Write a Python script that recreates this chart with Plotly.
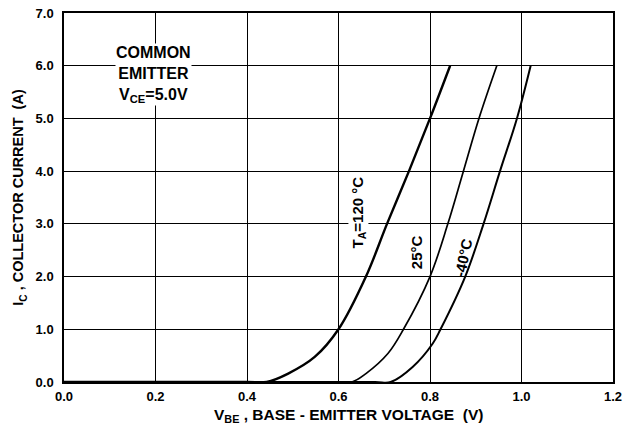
import plotly.graph_objects as go

# Data
v_120 = [0.0, 0.20, 0.40, 0.443, 0.490, 0.548, 0.600, 0.660, 0.706, 0.754, 0.800, 0.844]
i_120 = [0.0, 0.0, 0.0, 0.0, 0.16, 0.475, 1.0, 2.0, 3.0, 4.0, 5.0, 6.0]

v_25 = [0.0, 0.30, 0.59, 0.629, 0.660, 0.708, 0.742, 0.800, 0.839, 0.873, 0.907, 0.946]
i_25 = [0.0, 0.0, 0.0, 0.0, 0.16, 0.54, 1.0, 2.0, 3.0, 4.0, 5.0, 6.0]

v_m40 = [0.0, 0.35, 0.68, 0.714, 0.762, 0.806, 0.823, 0.877, 0.917, 0.953, 0.990, 1.020]
i_m40 = [0.0, 0.0, 0.0, 0.0, 0.285, 0.73, 1.0, 2.0, 3.0, 4.0, 5.0, 6.0]

x_ticks = [0.0, 0.2, 0.4, 0.6, 0.8, 1.0, 1.2]
y_ticks = [0.0, 1.0, 2.0, 3.0, 4.0, 5.0, 6.0, 7.0]

FONT = "Liberation Sans"

fig = go.Figure()
for v, i, w in [(v_120, i_120, 2.4), (v_25, i_25, 1.7), (v_m40, i_m40, 2.0)]:
    fig.add_trace(go.Scatter(x=v, y=i, mode="lines",
                             line=dict(color="black", width=w, shape="spline", smoothing=1.0),
                             showlegend=False, hoverinfo="skip", cliponaxis=True))

ann_font = dict(family=FONT, size=16, color="black")
fig.add_annotation(x=0.195, y=5.84, xref="x", yref="y", showarrow=False,
                   text="<b>COMMON<br>EMITTER<br>V<sub>CE</sub>=5.0V</b>",
                   font=ann_font, align="center", bgcolor="white", borderpad=0)
fig.add_annotation(x=0.643, y=3.22, xref="x", yref="y", showarrow=False,
                   text="<b>T<sub>A</sub>=120 °C</b>", textangle=-90,
                   font=dict(family=FONT, size=15, color="black"), bgcolor="white", borderpad=0)
fig.add_annotation(x=0.769, y=2.46, xref="x", yref="y", showarrow=False,
                   text="<b>25°C</b>", textangle=-90,
                   font=dict(family=FONT, size=15, color="black"), bgcolor="white", borderpad=0)
fig.add_annotation(x=0.872, y=2.37, xref="x", yref="y", showarrow=False,
                   text="<b>-40°C</b>", textangle=-78,
                   font=dict(family=FONT, size=15, color="black"), borderpad=0)

# x-axis title placed as a paper annotation below the tick labels
fig.add_annotation(x=0.519, y=0, xref="paper", yref="paper", yanchor="top",
                   yshift=-22, showarrow=False,
                   text="<b>V<sub>BE</sub> , BASE - EMITTER VOLTAGE  (V)</b>",
                   font=dict(family=FONT, size=15.5, color="black"))

axis_common = dict(showgrid=True, gridcolor="black", gridwidth=1,
                   showline=True, linecolor="black", linewidth=1.5, mirror=True,
                   zeroline=False, ticks="", tickformat=".1f", automargin=False,
                   ticklabeloverflow="allow",
                   tickfont=dict(family=FONT, size=13, color="black", weight="bold"))

fig.update_xaxes(range=[0, 1.2], tickvals=x_ticks, ticklabelstandoff=2, **axis_common)
fig.update_yaxes(range=[0, 7.0], tickvals=y_ticks, ticklabelstandoff=6,
                 title=dict(text="<b>I<sub>C</sub> , COLLECTOR CURRENT  (A)</b>",
                            font=dict(family=FONT, size=14.5, color="black"), standoff=8),
                 **axis_common)

# page body has an 8px margin: offset the margins so the plot lands where the reference has it
fig.update_layout(width=619, height=419, margin=dict(l=56, r=14, t=5, b=45),
                  paper_bgcolor="white", plot_bgcolor="white")

fig.write_html("out.html")
